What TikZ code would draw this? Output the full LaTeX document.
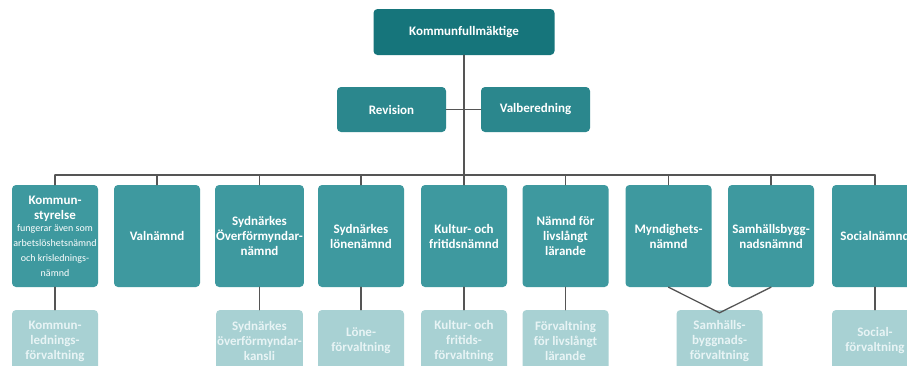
\documentclass[tikz,border=0pt]{standalone}
\usepackage{fontspec}
\setmainfont{Carlito}
\newcommand{\finetext}{\mdseries\fontsize{10}{9.8}\selectfont}

\begin{document}
\begin{tikzpicture}[
    x=1pt, y=-1pt,
    line cap=round,
    every node/.style={font=\bfseries\fontsize{13}{15}\selectfont},
    link/.style={draw=linegray, line width=1.3pt},
    headbox/.style={rounded corners=4pt, fill=KFteal, text=white, align=center,
        minimum width=181pt, minimum height=46pt, inner sep=1pt},
    sidebox/.style={rounded corners=4pt, fill=RVteal, text=white, align=center,
        minimum width=109pt, minimum height=45pt, inner sep=1pt},
    board/.style={rounded corners=4pt, fill=NMteal, text=white, align=center,
        minimum width=86pt, minimum height=102pt, inner sep=1pt},
    office/.style={rounded corners=4pt, fill=FVteal, text=FVtext, align=center,
        minimum width=86pt, minimum height=62pt, inner sep=1pt},
]

\definecolor{KFteal}{RGB}{22,117,123}
\definecolor{RVteal}{RGB}{43,135,141}
\definecolor{NMteal}{RGB}{62,153,159}
\definecolor{FVteal}{RGB}{168,209,211}
\definecolor{FVtext}{RGB}{232,244,245}
\definecolor{linegray}{RGB}{85,85,85}

\clip (0,0) rectangle (907,365);
\fill[white] (0,0) rectangle (907,365);

% ---------- top level ----------
\node[headbox] (kf) at (464,32) {Kommunfullmäktige};
\node[sidebox] (rev) at (391.5,109.5) {Revision};
\node[sidebox] (val) at (535.5,109.5) {Valberedning};
\coordinate (bus) at (464,175);

% ---------- boards ----------
\node[board] (b1) at (55,236) {Kommun-\\styrelse\\[-3pt]
    \finetext fungerar även som\\\finetext arbetslöshetsnämnd\\
    \finetext och krislednings-\\\finetext nämnd};
\node[board] (b2) at (157,236) {Valnämnd};
\node[board] (b3) at (259.5,236) {Sydnärkes\\Överförmyndar-\\nämnd};
\node[board] (b4) at (361,236) {Sydnärkes\\lönenämnd};
\node[board] (b5) at (464,236) {Kultur- och\\fritidsnämnd};
\node[board] (b6) at (565.5,236) {Nämnd för\\livslångt\\lärande};
\node[board] (b7) at (668.5,236) {Myndighets-\\nämnd};
\node[board] (b8) at (771,236) {Samhällsbygg-\\nadsnämnd};
\node[board] (b9) at (875,236) {Socialnämnd};

% ---------- administrations ----------
\node[office] (f1) at (55,341) {Kommun-\\lednings-\\förvaltning};
\node[office] (f3) at (259.5,341) {Sydnärkes\\överförmyndar-\\kansli};
\node[office] (f4) at (361,341) {Löne-\\förvaltning};
\node[office] (f5) at (464,341) {Kultur- och\\fritids-\\förvaltning};
\node[office] (f6) at (565.5,341) {Förvaltning\\för livslångt\\lärande};
\node[office] (f7) at (719.5,341) {Samhälls-\\byggnads-\\förvaltning};
\node[office] (f9) at (875,341) {Social-\\förvaltning};

% ---------- connectors ----------
\draw[link] (kf.south) -- (bus);
\draw[link] (rev.east) -- (val.west);
\draw[link] (b1.north |- bus) -- (b9.north |- bus);
\foreach \b in {1,...,9}{
    \draw[link] (b\b.north |- bus) -- (b\b.north);
}
\foreach \b in {1,3,4,5,6,9}{
    \draw[link] (b\b.south) -- (f\b.north);
}
\draw[link] (b7.south) -- ([yshift=-3pt]f7.north) -- (b8.south);

\end{tikzpicture}
\end{document}
